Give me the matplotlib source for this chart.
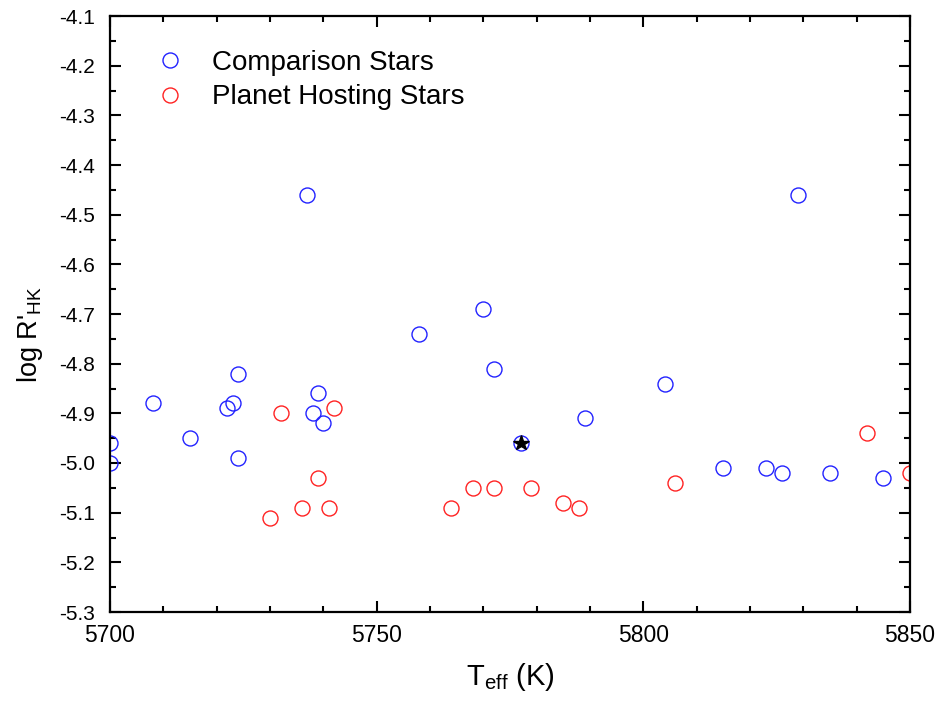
import matplotlib
matplotlib.use("Agg")
import matplotlib.pyplot as plt
from matplotlib.ticker import MultipleLocator

plt.rcParams['font.family'] = ['Liberation Sans', 'DejaVu Sans']
plt.rcParams['mathtext.fontset'] = 'custom'
plt.rcParams['mathtext.rm'] = 'Liberation Sans'
plt.rcParams['mathtext.it'] = 'Liberation Sans:italic'

# Comparison stars
comp_teff = [5700, 5700, 5708, 5715, 5722, 5723, 5724, 5724, 5737, 5738, 5739, 5740,
             5758, 5770, 5772, 5777, 5789, 5804, 5829, 5815, 5823, 5826, 5835, 5845]
comp_logr = [-4.96, -5.00, -4.88, -4.95, -4.89, -4.88, -4.82, -4.99, -4.46, -4.90, -4.86, -4.92,
             -4.74, -4.69, -4.81, -4.96, -4.91, -4.84, -4.46, -5.01, -5.01, -5.02, -5.02, -5.03]

# Planet hosting stars
ph_teff = [5730, 5732, 5736, 5739, 5741, 5742, 5764, 5768, 5772, 5779, 5785, 5788, 5806, 5842, 5850]
ph_logr = [-5.11, -4.90, -5.09, -5.03, -5.09, -4.89, -5.09, -5.05, -5.05, -5.05, -5.08, -5.09,
           -5.04, -4.94, -5.02]

# Sun
sun_teff = [5777]
sun_logr = [-4.96]

fig = plt.figure(figsize=(9.41, 7.06), dpi=100)
ax = fig.add_axes([110/941, 1-612/706, 800/941, 596/706])

ax.plot(comp_teff, comp_logr, linestyle='none', marker='o', markersize=10.8,
        markerfacecolor='none', markeredgecolor='#2222ff', markeredgewidth=1.0,
        label='Comparison Stars')
ax.plot(ph_teff, ph_logr, linestyle='none', marker='o', markersize=10.8,
        markerfacecolor='none', markeredgecolor='#ff2222', markeredgewidth=1.0,
        label='Planet Hosting Stars')
ax.plot(sun_teff, sun_logr, linestyle='none', marker='*', markersize=11.5,
        color='black')

ax.set_xlim(5700, 5850)
ax.set_ylim(-5.3, -4.1)
ax.xaxis.set_major_locator(MultipleLocator(50))
ax.xaxis.set_minor_locator(MultipleLocator(10))
ax.yaxis.set_major_locator(MultipleLocator(0.1))
ax.yaxis.set_minor_locator(MultipleLocator(0.05))
ax.yaxis.set_major_formatter(matplotlib.ticker.FuncFormatter(lambda v, p: f"{v:.1f}"))

ax.tick_params(which='both', direction='in', top=True, right=True, width=1.5)
ax.tick_params(which='major', length=8)
ax.tick_params(which='minor', length=4.5)
ax.tick_params(axis='x', labelsize=16.5, pad=9)
ax.tick_params(axis='y', labelsize=15, pad=11)
for s in ax.spines.values():
    s.set_linewidth(1.6)

ax.set_xlabel(r"T$_\mathrm{eff}$ (K)", fontsize=21)
ax.xaxis.set_label_coords(0.5, -0.083)
ax.set_ylabel(r"log R'$_\mathrm{HK}$", fontsize=19.5)
ax.yaxis.set_label_coords(-0.081, 0.466)

leg = ax.legend(loc='upper left', bbox_to_anchor=(0.027, 0.985), frameon=False,
                fontsize=20, handletextpad=1.0, labelspacing=0.3, markerscale=1.0,
                handlelength=1.0)

fig.savefig('out.png', dpi=100)
